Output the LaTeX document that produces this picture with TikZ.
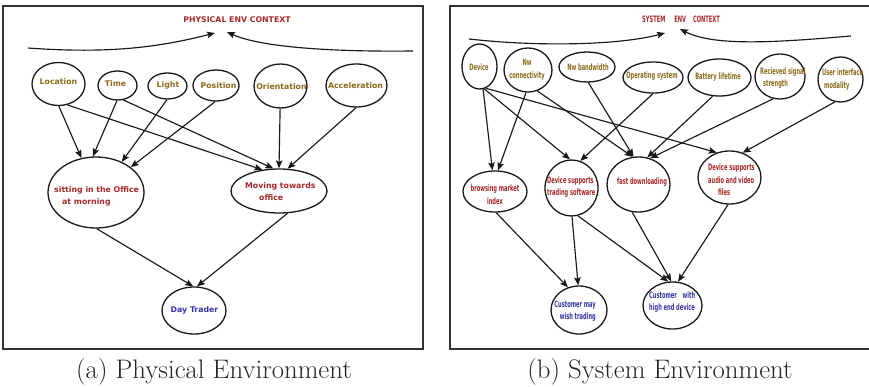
\documentclass[tikz,border=0pt]{standalone}
\usepackage{fontspec}
\usetikzlibrary{shapes.geometric,arrows.meta}
\newfontfamily\leftfont{DejaVu Sans}
\newfontfamily\rightfont[FakeStretch=0.58]{DejaVu Sans}
\definecolor{ochre}{HTML}{8B6B1A}
\definecolor{dred}{HTML}{A82828}
\definecolor{dblue}{HTML}{3535A8}
\tikzset{
  ell/.style={draw=black!90, ellipse, inner sep=0pt, line width=1.3pt},
  arr/.style={line width=1.15pt, black!90, -{Stealth[length=8pt,width=6.5pt,inset=1.5pt]}},
  lt/.style={inner sep=0pt, font=\leftfont\bfseries\fontsize{7.8}{12}\selectfont},
  rt/.style={inner sep=0pt, font=\rightfont\bfseries\fontsize{8.8}{12.5}\selectfont},
  frame/.style={line width=1.5pt, black!80},
  captxt/.style={inner sep=0pt, font=\rmfamily\fontsize{26.8}{30}\selectfont, black!85}
}
\begin{document}
\begin{tikzpicture}[x=1pt,y=-1pt]
\useasboundingbox[fill=white] (0,0) rectangle (869,387);
% frames
\draw[frame] (3,6) rectangle (423,349);
\draw[frame] (869,6) -- (450,6) -- (450,349) -- (869,349);
\node[captxt] (capa) at (214,372) {(a) Physical Environment};
\node[captxt] (capb) at (660,372) {(b) System Environment};

% ---------- left panel ----------
\node[lt, dred] (ptitle) at (237,20) {PHYSICAL ENV CONTEXT};
\coordinate (pl0) at (28,48);
\coordinate (pl1) at (215,33);
\coordinate (pr0) at (413,51);
\coordinate (pr1) at (227,32);
\draw[arr] (pl0) .. controls (110,54) and (160,47) .. (pl1);
\draw[arr] (pr0) .. controls (330,52) and (260,47) .. (pr1);

\node[ell, minimum width=53, minimum height=43] (loc) at (58.5,84) {};
\node[ell, minimum width=39, minimum height=29] (tim) at (117.5,85.5) {};
\node[ell, minimum width=39, minimum height=26] (lig) at (167.5,86) {};
\node[ell, minimum width=46, minimum height=31] (pos) at (216,85.5) {};
\node[ell, minimum width=53, minimum height=44] (ori) at (280.5,86) {};
\node[ell, minimum width=61, minimum height=43] (acc) at (356.5,85.5) {};
\node[ell, minimum width=96, minimum height=71] (sit) at (96,192.5) {};
\node[ell, minimum width=96, minimum height=44] (mov) at (279,191) {};
\node[ell, minimum width=64, minimum height=47] (day) at (194,310.5) {};

\node[lt, ochre] (loct) at (58.5,82) {Location};
\node[lt, ochre] (timt) at (115.5,84) {Time};
\node[lt, ochre] (ligt) at (168,85) {Light};
\node[lt, ochre] (post) at (218.5,86) {Position};
\node[lt, ochre] (orit) at (281.5,87) {Orientation};
\node[lt, ochre] (acct) at (355.5,86) {Acceleration};
\node[lt, dred, align=left, anchor=west] (sitt) at (54,196) {sitting in the Office\\\hspace*{8pt}at morning};
\node[lt, dred, align=left, anchor=west] (movt) at (245,192) {Moving towards\\\hspace*{14pt}office};
\node[lt, dblue] (dayt) at (194.5,310) {Day Trader};

\draw[arr] (loc.-89) -- (sit.113);
\draw[arr] (loc.-67) -- (mov.128);
\draw[arr] (tim.-92) -- (sit.95);
\draw[arr] (tim.-68) -- (mov.104);
\draw[arr] (lig.-92) -- (sit.50);
\draw[arr] (pos.-93) -- (sit.36);
\draw[arr] (ori.-91) -- (mov.90);
\draw[arr] (acc.-91) -- (mov.69);
\draw[arr] (sit.-89) -- (day.92);
\draw[arr] (mov.-69) -- (day.83);

% ---------- right panel ----------
\node[rt, dred] (stitle) at (681,19) {SYSTEM\hspace*{9pt}ENV\hspace*{7pt}CONTEXT};
\coordinate (sl0) at (469,39);
\coordinate (sl1) at (665,33);
\coordinate (sr0) at (851,36);
\coordinate (sr1) at (680,29);
\draw[arr] (sl0) .. controls (540,47) and (620,45) .. (sl1);
\draw[arr] (sr0) .. controls (780,42) and (715,47) .. (sr1);

\node[ell, minimum width=35, minimum height=45] (dev) at (479.5,66.5) {};
\node[ell, minimum width=48, minimum height=44] (nwc) at (528,70) {};
\node[ell, minimum width=56, minimum height=30] (nwb) at (587,67) {};
\node[ell, minimum width=60, minimum height=31] (os) at (653,77.5) {};
\node[ell, minimum width=63, minimum height=37] (bat) at (719.5,77.5) {};
\node[ell, minimum width=50, minimum height=45] (sig) at (780,76.5) {};
\node[ell, minimum width=45, minimum height=45] (ui) at (840.5,79.5) {};
\node[ell, minimum width=64, minimum height=41] (bmi) at (495,191.5) {};
\node[ell, minimum width=53, minimum height=56] (dts) at (571.5,188) {};
\node[ell, minimum width=63, minimum height=55] (fd) at (638.5,184.5) {};
\node[ell, minimum width=63, minimum height=53] (dav) at (729.5,177.5) {};
\node[ell, minimum width=56, minimum height=48] (cmw) at (579,310) {};
\node[ell, minimum width=59, minimum height=47] (chd) at (672.5,305.5) {};

\node[rt, ochre] (devt) at (479,67) {Device};
\node[rt, ochre, align=center] (nwct) at (527,69.5) {Nw\\connectivity};
\node[rt, ochre] (nwbt) at (588,67) {Nw bandwidth};
\node[rt, ochre] (ost) at (652,76) {Operating system};
\node[rt, ochre] (batt) at (718,77) {Battery lifetime};
\node[rt, ochre, align=left, anchor=west] (sigt) at (760,78) {Recieved signal\\\hspace*{3pt}strength};
\node[rt, ochre, align=left, anchor=west] (uit) at (822,79.5) {User interface\\\hspace*{2pt}modality};
\node[rt, dred, align=center] (bmit) at (495,194.5) {browsing market\\index};
\node[rt, dred, align=left, anchor=west] (dtst) at (547,187) {Device supports\\trading software};
\node[rt, dred] (fdt) at (642,182) {fast downloading};
\node[rt, dred, align=left, anchor=west] (davt) at (708,180) {Device supports\\audio and video\\\hspace*{10pt}files};
\node[rt, dblue, align=right, anchor=east] (cmwt) at (596,311) {Customer may\\wish trading};
\node[rt, dblue, align=left, anchor=west] (chdt) at (649,302) {Customer\hspace*{4pt} with\\high end device};

\draw[arr] (dev.-81) -- (bmi.97);
\draw[arr] (dev.-78) -- (dts.93);
\draw[arr] (dev.-74) -- (dav.117);
\draw[arr] (nwc.-95) -- (bmi.82);
\draw[arr] (nwc.-66) -- (fd.102);
\draw[arr] (nwb.-85) -- (fd.100);
\draw[arr] (os.-90) -- (dts.72);
\draw[arr] (bat.-110) -- (fd.72);
\draw[arr] (sig.-107) -- (fd.66);
\draw[arr] (ui.-104) -- (dav.62);
\draw[arr] (bmi.-87) -- (cmw.116);
\draw[arr] (dts.-89) -- (cmw.92);
\draw[arr] (dts.-77) -- (chd.100);
\draw[arr] (fd.-103) -- (chd.93);
\draw[arr] (dav.-93) -- (chd.77);
\end{tikzpicture}
\end{document}
